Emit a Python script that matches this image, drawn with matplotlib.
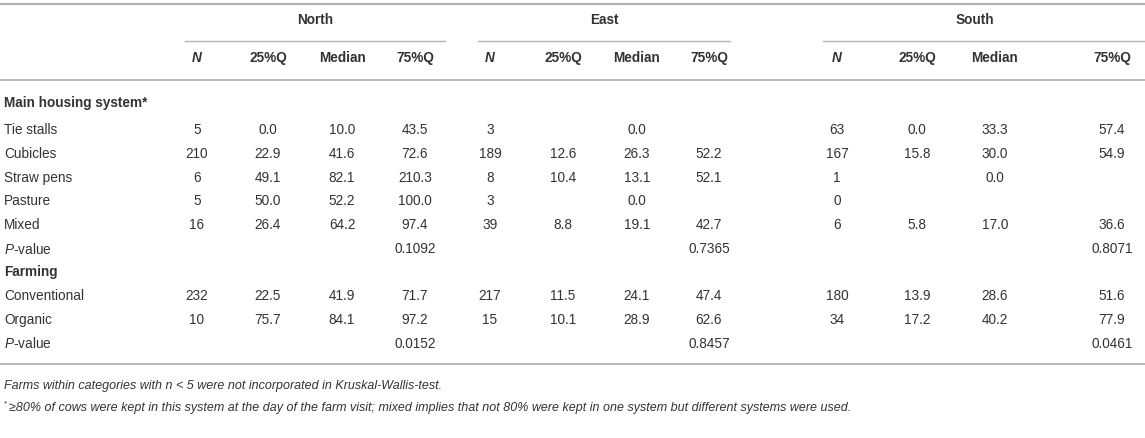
import matplotlib.pyplot as plt

plt.rcParams['font.family'] = ['Liberation Sans', 'DejaVu Sans']
plt.rcParams['mathtext.fontset'] = 'custom'
plt.rcParams['mathtext.rm'] = 'Liberation Sans'
plt.rcParams['mathtext.it'] = 'Liberation Sans:italic'
plt.rcParams['mathtext.bf'] = 'Liberation Sans:bold'

regions = ["North", "East", "South"]
stat_cols = ["N", "25%Q", "Median", "75%Q"]

housing_rows = ["Tie stalls", "Cubicles", "Straw pens", "Pasture", "Mixed"]
north_housing = [["5", "0.0", "10.0", "43.5"],
                 ["210", "22.9", "41.6", "72.6"],
                 ["6", "49.1", "82.1", "210.3"],
                 ["5", "50.0", "52.2", "100.0"],
                 ["16", "26.4", "64.2", "97.4"]]
east_housing = [["3", "", "0.0", ""],
                ["189", "12.6", "26.3", "52.2"],
                ["8", "10.4", "13.1", "52.1"],
                ["3", "", "0.0", ""],
                ["39", "8.8", "19.1", "42.7"]]
south_housing = [["63", "0.0", "33.3", "57.4"],
                 ["167", "15.8", "30.0", "54.9"],
                 ["1", "", "0.0", ""],
                 ["0", "", "", ""],
                 ["6", "5.8", "17.0", "36.6"]]
housing_p = ["0.1092", "0.7365", "0.8071"]

farming_rows = ["Conventional", "Organic"]
north_farming = [["232", "22.5", "41.9", "71.7"],
                 ["10", "75.7", "84.1", "97.2"]]
east_farming = [["217", "11.5", "24.1", "47.4"],
                ["15", "10.1", "28.9", "62.6"]]
south_farming = [["180", "13.9", "28.6", "51.6"],
                 ["34", "17.2", "40.2", "77.9"]]
farming_p = ["0.0152", "0.8457", "0.0461"]

note1 = "Farms within categories with n < 5 were not incorporated in Kruskal-Wallis-test."
note2 = ("\u226580% of cows were kept in this system at the day of the farm visit; "
         "mixed implies that not 80% were kept in one system but different systems were used.")

# layout (pixel coordinates, y from the top)
W, H = 1145, 438
col_x = [[197, 268, 342, 415], [490, 563, 637, 709], [837, 917, 995, 1112]]
span = [(185, 445), (478, 730), (823, 1145)]
txt = "#333333"
line_c = "#b4b4b4"
fs = 9.8

fig = plt.figure(figsize=(W / 100, H / 100), dpi=100)
ax = fig.add_axes([0, 0, 1, 1])
ax.set_xlim(0, W)
ax.set_ylim(H, 0)
ax.axis("off")

def put(x, y, s, **kw):
    ax.text(x, y, s, ha=kw.pop("ha", "center"), va="center", color=txt,
            fontsize=kw.pop("fontsize", fs), **kw)

# rules
ax.plot([0, W], [4, 4], color=line_c, lw=1.6)
ax.plot([0, W], [80, 80], color=line_c, lw=1.3)
ax.plot([0, W], [364, 364], color=line_c, lw=1.3)
for (a, b) in span:
    ax.plot([a, b], [41, 41], color=line_c, lw=1.0)

# headers
head_x = [315, 604, 975]
for r, name in enumerate(regions):
    put(head_x[r], 20, name, fontweight="bold")
    for c, s in enumerate(stat_cols):
        if s == "N":
            put(col_x[r][c], 58, s, fontweight="bold", fontstyle="italic")
        else:
            put(col_x[r][c], 58, s, fontweight="bold")

def body(y0, gap, labels, blocks, pvals, title):
    put(4, y0, title, ha="left", fontweight="bold")
    y = y0 + gap
    for i, lab in enumerate(labels):
        put(4, y, lab, ha="left")
        for r, blk in enumerate(blocks):
            for c, v in enumerate(blk[i]):
                if v:
                    put(col_x[r][c], y, v)
        y += 23.8
    put(4, y, r"$\mathit{P}$-value", ha="left")
    for r, p in enumerate(pvals):
        put(col_x[r][3], y, p)

body(103, 27, housing_rows, [north_housing, east_housing, south_housing],
     housing_p, "Main housing system*")
body(272, 24, farming_rows, [north_farming, east_farming, south_farming],
     farming_p, "Farming")

put(4, 386, note1, ha="left", fontstyle="italic", fontsize=9.0)
put(4, 404, "*", ha="left", fontsize=6)
put(9, 408, note2, ha="left", fontstyle="italic", fontsize=9.0)

fig.savefig("out.png", dpi=100, facecolor="white")
